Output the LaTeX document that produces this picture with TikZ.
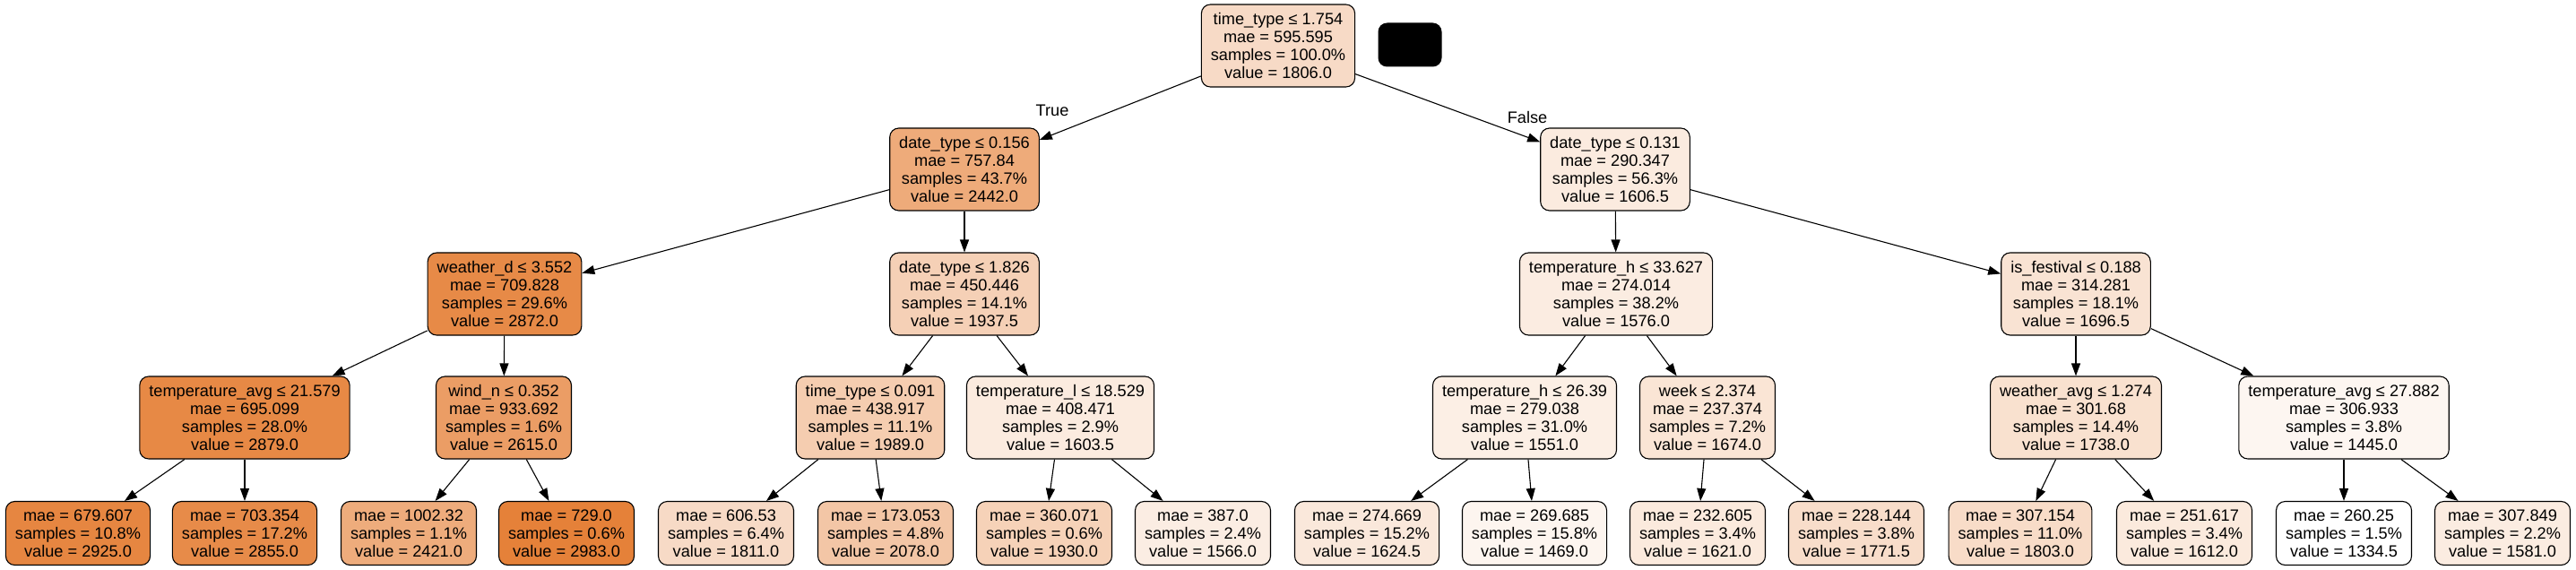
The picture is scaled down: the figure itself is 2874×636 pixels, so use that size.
\documentclass[tikz,border=0pt]{standalone}
\usepackage{fontspec}
\setmainfont{Liberation Sans}
\usetikzlibrary{arrows.meta}
\definecolor{dtorange}{HTML}{E58139}
\begin{document}
\begin{tikzpicture}[x=1pt,y=-1pt,
	split/.style={draw=black,line width=1.1pt,rounded corners=10pt,align=center,inner xsep=10.5pt,inner ysep=0pt,minimum height=92pt,font=\fontsize{18.2}{20}\selectfont},
	leaf/.style={split,minimum height=71pt},
	every edge/.append style={line width=1.1pt,-{Triangle[length=14pt,width=10pt]}}]
		\useasboundingbox (0,0) rectangle (2874,636);
		
		\node[split,fill=dtorange!29] (root) at (1426,51) {time\_type ≤ 1.754\\mae = 595.595\\samples = 100.0\%\\value = 1806.0};
		\node[fill=black,rounded corners=10pt,minimum width=71pt,minimum height=49pt] (blank) at (1573,50) {};
		
		\node[split,fill=dtorange!67] (t) at (1076,189) {date\_type ≤ 0.156\\mae = 757.84\\samples = 43.7\%\\value = 2442.0};
		\node[split,fill=dtorange!16] (f) at (1802,189) {date\_type ≤ 0.131\\mae = 290.347\\samples = 56.3\%\\value = 1606.5};
		
		\node[split,fill=dtorange!93] (tt) at (563,328) {weather\_d ≤ 3.552\\mae = 709.828\\samples = 29.6\%\\value = 2872.0};
		\node[split,fill=dtorange!37] (tf) at (1076,328) {date\_type ≤ 1.826\\mae = 450.446\\samples = 14.1\%\\value = 1937.5};
		\node[split,fill=dtorange!15] (ft) at (1803,328) {temperature\_h ≤ 33.627\\mae = 274.014\\samples = 38.2\%\\value = 1576.0};
		\node[split,fill=dtorange!22] (ff) at (2316,328) {is\_festival ≤ 0.188\\mae = 314.281\\samples = 18.1\%\\value = 1696.5};
		
		\node[split,fill=dtorange!94] (ttt) at (273,466) {temperature\_avg ≤ 21.579\\mae = 695.099\\samples = 28.0\%\\value = 2879.0};
		\node[split,fill=dtorange!78] (ttf) at (562,466) {wind\_n ≤ 0.352\\mae = 933.692\\samples = 1.6\%\\value = 2615.0};
		\node[split,fill=dtorange!40] (tft) at (971,466) {time\_type ≤ 0.091\\mae = 438.917\\samples = 11.1\%\\value = 1989.0};
		\node[split,fill=dtorange!16] (tff) at (1183,466) {temperature\_l ≤ 18.529\\mae = 408.471\\samples = 2.9\%\\value = 1603.5};
		\node[split,fill=dtorange!13] (ftt) at (1701,466) {temperature\_h ≤ 26.39\\mae = 279.038\\samples = 31.0\%\\value = 1551.0};
		\node[split,fill=dtorange!21] (ftf) at (1905,466) {week ≤ 2.374\\mae = 237.374\\samples = 7.2\%\\value = 1674.0};
		\node[split,fill=dtorange!24] (fft) at (2316,466) {weather\_avg ≤ 1.274\\mae = 301.68\\samples = 14.4\%\\value = 1738.0};
		\node[split,fill=dtorange!7] (fff) at (2615,466) {temperature\_avg ≤ 27.882\\mae = 306.933\\samples = 3.8\%\\value = 1445.0};
		
		\node[leaf,fill=dtorange!96] (tttt) at (87,595) {mae = 679.607\\samples = 10.8\%\\value = 2925.0};
		\node[leaf,fill=dtorange!92] (tttf) at (273,595) {mae = 703.354\\samples = 17.2\%\\value = 2855.0};
		\node[leaf,fill=dtorange!66] (ttft) at (456,595) {mae = 1002.32\\samples = 1.1\%\\value = 2421.0};
		\node[leaf,fill=dtorange] (ttff) at (632,595) {mae = 729.0\\samples = 0.6\%\\value = 2983.0};
		\node[leaf,fill=dtorange!29] (tftt) at (810,595) {mae = 606.53\\samples = 6.4\%\\value = 1811.0};
		\node[leaf,fill=dtorange!45] (tftf) at (988,595) {mae = 173.053\\samples = 4.8\%\\value = 2078.0};
		\node[leaf,fill=dtorange!36] (tfft) at (1165,595) {mae = 360.071\\samples = 0.6\%\\value = 1930.0};
		\node[leaf,fill=dtorange!14] (tfff) at (1342,595) {mae = 387.0\\samples = 2.4\%\\value = 1566.0};
		\node[leaf,fill=dtorange!18] (fttt) at (1525,595) {mae = 274.669\\samples = 15.2\%\\value = 1624.5};
		\node[leaf,fill=dtorange!8] (fttf) at (1712,595) {mae = 269.685\\samples = 15.8\%\\value = 1469.0};
		\node[leaf,fill=dtorange!17] (ftft) at (1894,595) {mae = 232.605\\samples = 3.4\%\\value = 1621.0};
		\node[leaf,fill=dtorange!27] (ftff) at (2071,595) {mae = 228.144\\samples = 3.8\%\\value = 1771.5};
		\node[leaf,fill=dtorange!28] (fftt) at (2254,595) {mae = 307.154\\samples = 11.0\%\\value = 1803.0};
		\node[leaf,fill=dtorange!17] (fftf) at (2437,595) {mae = 251.617\\samples = 3.4\%\\value = 1612.0};
		\node[leaf,fill=white] (ffft) at (2615,595) {mae = 260.25\\samples = 1.5\%\\value = 1334.5};
		\node[leaf,fill=dtorange!15] (ffff) at (2792,595) {mae = 307.849\\samples = 2.2\%\\value = 1581.0};
		
		\node[font=\fontsize{18.2}{20}\selectfont] (true) at (1174,123) {True};
		\node[font=\fontsize{18.2}{20}\selectfont] (false) at (1704,131) {False};
		
		\path (root) edge (t);
		\path (root) edge (f);
		\path (t) edge (tt);
		\path (t) edge (tf);
		\path (f) edge (ft);
		\path (f) edge (ff);
		\path (tt) edge (ttt);
		\path (tt) edge (ttf);
		\path (tf) edge (tft);
		\path (tf) edge (tff);
		\path (ft) edge (ftt);
		\path (ft) edge (ftf);
		\path (ff) edge (fft);
		\path (ff) edge (fff);
		\path (ttt) edge (tttt);
		\path (ttt) edge (tttf);
		\path (ttf) edge (ttft);
		\path (ttf) edge (ttff);
		\path (tft) edge (tftt);
		\path (tft) edge (tftf);
		\path (tff) edge (tfft);
		\path (tff) edge (tfff);
		\path (ftt) edge (fttt);
		\path (ftt) edge (fttf);
		\path (ftf) edge (ftft);
		\path (ftf) edge (ftff);
		\path (fft) edge (fftt);
		\path (fft) edge (fftf);
		\path (fff) edge (ffft);
		\path (fff) edge (ffff);
		\end{tikzpicture}
\end{document}
